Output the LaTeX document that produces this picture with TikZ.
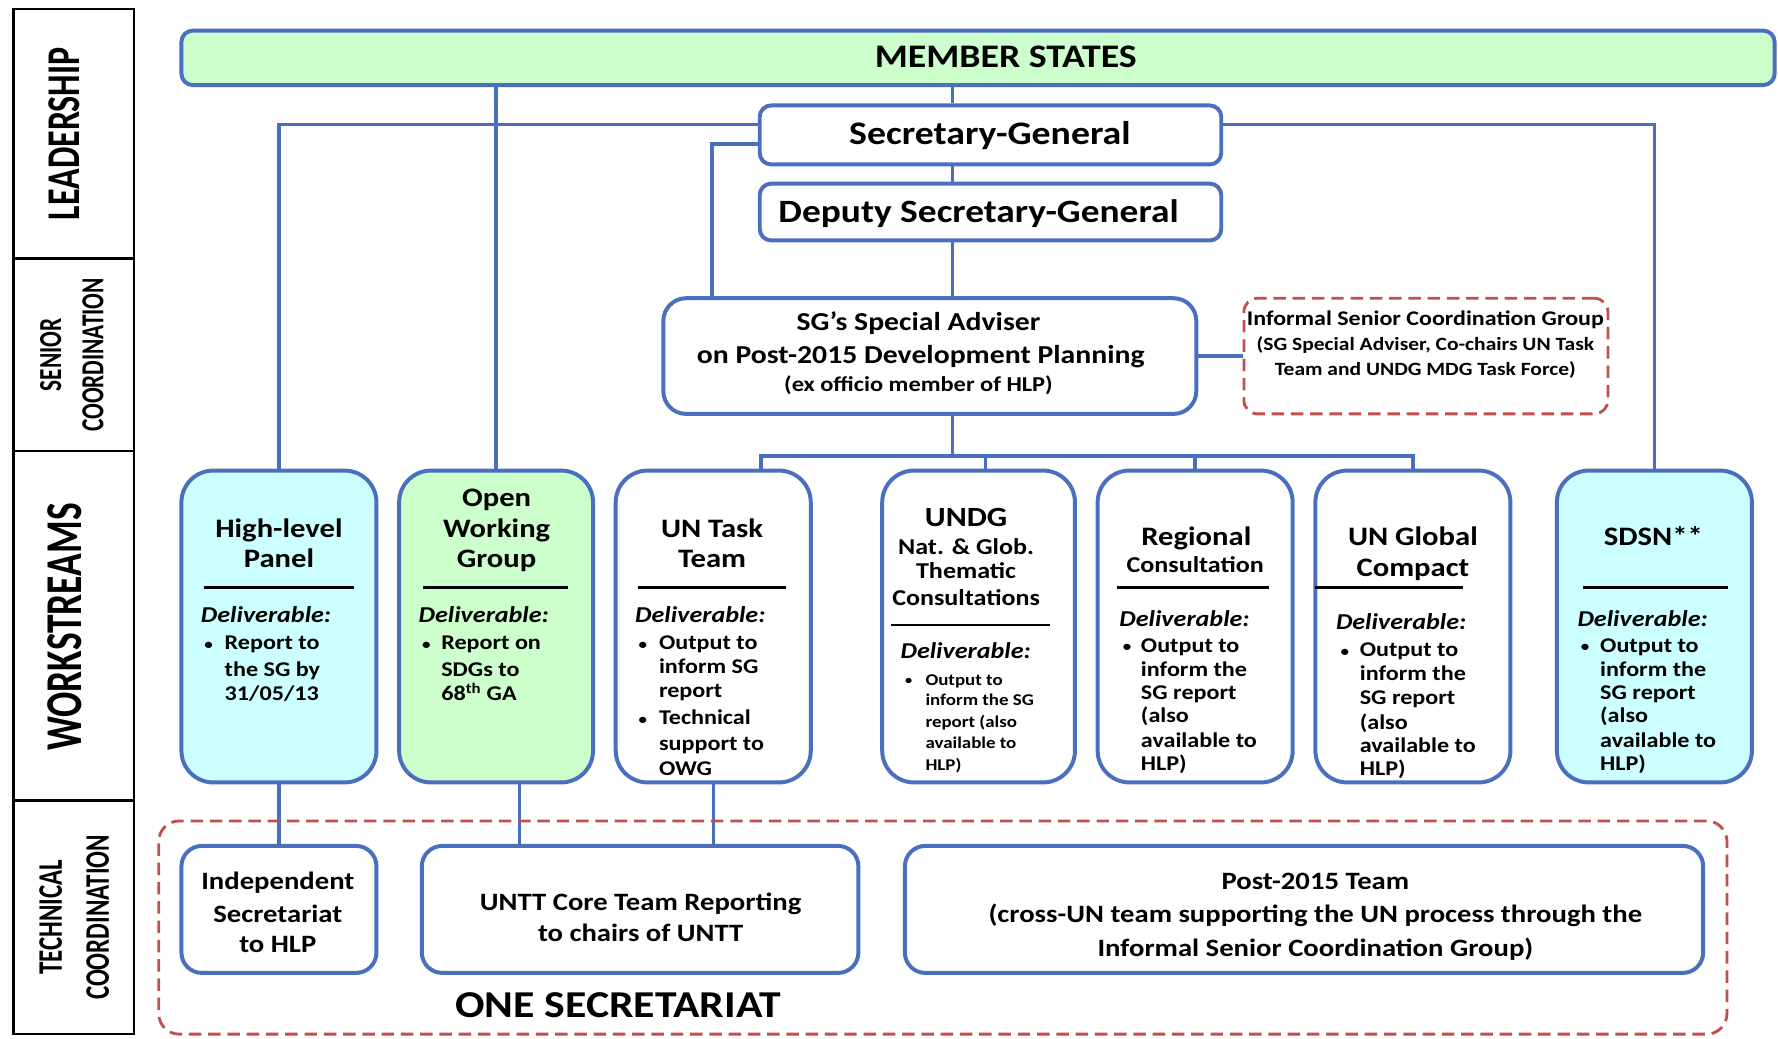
\documentclass[tikz,border=0pt]{standalone}
\usepackage{graphicx}
\usepackage{fontspec}
\setmainfont{Carlito}[FakeStretch=1.15]
\newfontfamily\rotfont{Carlito}
\usetikzlibrary{backgrounds}
\definecolor{bl}{HTML}{4A6FBF}
\definecolor{gr}{HTML}{CCFFCC}
\definecolor{cy}{HTML}{CCFFFF}
\definecolor{rd}{HTML}{C0504D}
\newcommand{\fs}[2]{\fontsize{#1}{#2}\selectfont}
\newcommand{\mklines}[4]{\foreach \yy/\ltxt [count=\ii] in {#4} {\node[#2] (#1-\ii) at (#3,\yy) {\ltxt};}}
\tikzset{
  box/.style={draw=bl, line width=3.5pt, rounded corners=#1, inner sep=0pt},
  box/.default=10pt,
  cell/.style={draw=black, line width=2pt, minimum width=106pt, inner sep=0pt},
  conn/.style={draw=bl, line width=3pt},
  dashbox/.style={draw=rd, line width=2.5pt, dash pattern=on 11pt off 6pt, rounded corners=#1, inner sep=0pt},
  dashbox/.default=14pt,
  rule/.style={draw=black, line width=2pt},
  txt/.style={inner sep=0pt, anchor=mid, font=\fs{#1}{#1}\bfseries, yshift=-0.27*#1},
  ttl/.style={txt=23.5},
  sub/.style={txt=20},
  dlv/.style={inner sep=0pt, anchor=mid west, font=\fs{20}{24}\bfseries\itshape, yshift=-5pt},
  bdy/.style={inner sep=0pt, anchor=mid west, font=\fs{18.5}{22}\bfseries, yshift=-4.8pt},
  bdys/.style={inner sep=0pt, anchor=mid west, font=\fs{14.5}{18}\bfseries, yshift=-3.8pt},
  bul/.style={inner sep=0pt, anchor=mid west, font=\fs{13}{16}\bfseries, yshift=-4.2pt},
  buls/.style={inner sep=0pt, anchor=mid west, font=\fs{11}{14}\bfseries, yshift=-3.5pt},
  bot/.style={txt=22},
  rot/.style={rotate=90, inner sep=0pt, anchor=center},
}
\begin{document}
\begin{tikzpicture}[x=1pt,y=-1pt]
\useasboundingbox (0,0) rectangle (1568,916);
% ---- left label column
\node[cell, minimum height=220pt] (cell1) at (65,118) {};
\node[cell, minimum height=170pt] (cell2) at (65,313) {};
\node[cell, minimum height=308pt] (cell3) at (65,552) {};
\node[cell, minimum height=206pt] (cell4) at (65,809) {};
\node[rot, font=\rotfont\bfseries\fs{30}{36}] (lab1) at (57,118) {\scalebox{1}[1.38]{LEADERSHIP}};
\node[rot, font=\rotfont\bfseries\fs{20.5}{27}] (lab2) at (65,313) {\scalebox{1}[1.38]{\begin{tabular}{@{}c@{}}SENIOR\\COORDINATION\end{tabular}}};
\node[rot, font=\rotfont\bfseries\fs{33}{40}] (lab3) at (57,553) {\scalebox{1}[1.38]{WORKSTREAMS}};
\node[rot, font=\rotfont\bfseries\fs{22}{30}] (lab4) at (67,809) {\scalebox{1}[1.38]{\begin{tabular}{@{}c@{}}TECHNICAL\\COORDINATION\end{tabular}}};
% ---- leadership boxes
\node[box, fill=gr, minimum width=1405pt, minimum height=48pt] (ms) at (862.5,51) {};
\node[box, fill=white, minimum width=407pt, minimum height=52pt] (sg) at (873.5,119) {};
\node[box, fill=white, minimum width=407pt, minimum height=50pt] (dsg) at (873.5,187) {};
\node[box=20pt, fill=white, minimum width=470pt, minimum height=102pt] (sa) at (820,314) {};
\node[dashbox=12pt, minimum width=321pt, minimum height=102pt] (iscg) at (1257.5,314) {};
\node[txt=29] (ms-t) at (887,49) {MEMBER STATES};
\node[txt=29] (sg-t) at (873,117) {Secretary-General};
\node[txt=28.7] (dsg-t) at (863,186) {Deputy Secretary-General};
\node[txt=22.8] (sa-1) at (810,283) {SG’s Special Adviser};
\node[txt=22.8] (sa-2) at (812,312) {on Post-2015 Development Planning};
\node[txt=18.7] (sa-3) at (810,338) {(ex officio member of HLP)};
\node[txt=18.4] (iscg-1) at (1257,280) {Informal Senior Coordination Group};
\node[txt=16.5] (iscg-2) at (1257,302) {(SG Special Adviser, Co-chairs UN Task};
\node[txt=16.5] (iscg-3) at (1257,324) {Team and UNDG MDG Task Force)};
% ---- workstreams
\node[box=28pt, fill=cy, minimum width=172pt, minimum height=275pt] (hlp) at (246,552.5) {};
\node[box=28pt, fill=gr, minimum width=171pt, minimum height=275pt] (owg) at (437.5,552.5) {};
\node[box=28pt, fill=white, minimum width=172pt, minimum height=275pt] (untt) at (629,552.5) {};
\node[box=28pt, fill=white, minimum width=170pt, minimum height=275pt] (undg) at (863,552.5) {};
\node[box=28pt, fill=white, minimum width=172pt, minimum height=275pt] (reg) at (1054,552.5) {};
\node[box=28pt, fill=white, minimum width=172pt, minimum height=275pt] (gc) at (1246,552.5) {};
\node[box=28pt, fill=cy, minimum width=172pt, minimum height=275pt] (sdsn) at (1459,552.5) {};
% HLP
\mklines{hlp-t}{ttl}{246}{465/{High-level},492/{Panel}}
\draw[rule] (180,518) -- (312,518);
\node[dlv] (hlp-d) at (177,542) {Deliverable:};
\node[bul] (hlp-u) at (180,566) {\textbullet};
\mklines{hlp-b}{bdy}{198}{566/{Report to},589/{the SG by},611/{31/05/13}}
% OWG
\mklines{owg-t}{ttl}{438}{438/{Open},465/{Working},492/{Group}}
\draw[rule] (373,518) -- (501,518);
\node[dlv] (owg-d) at (369,542) {Deliverable:};
\node[bul] (owg-u) at (372,566) {\textbullet};
\mklines{owg-b}{bdy}{389}{566/{Report on},589/{SDGs to},611/{68\textsuperscript{th} GA}}
% UNTT
\mklines{untt-t}{ttl}{628}{465/{UN Task},492/{Team}}
\draw[rule] (563,518) -- (693,518);
\node[dlv] (untt-d) at (560,542) {Deliverable:};
\node[bul] (untt-u1) at (563,566) {\textbullet};
\node[bul] (untt-u2) at (563,632) {\textbullet};
\mklines{untt-b}{bdy}{581}{566/{Output to},587/{inform SG},608/{report},632/{Technical},655/{support to},677/{OWG}}
% UNDG
\node[txt=24.5] (undg-t) at (852,455) {UNDG};
\mklines{undg-s}{sub}{852}{481/{Nat. \& Glob.},502/{Thematic},526/{Consultations}}
\draw[rule] (786,551) -- (926,551);
\node[dlv] (undg-d) at (794,573) {Deliverable:};
\node[buls] (undg-u) at (798,598) {\textbullet};
\mklines{undg-b}{bdys}{816}{598/{Output to},616/{inform the SG},635/{report (also},654/{available to},673/{HLP)}}
% Regional
\node[ttl] (reg-t) at (1055,472) {Regional};
\node[sub] (reg-s) at (1054,497) {Consultation};
\draw[rule] (985,518) -- (1119,518);
\node[dlv] (reg-d) at (987,545) {Deliverable:};
\node[bul] (reg-u) at (990,568) {\textbullet};
\mklines{reg-b}{bdy}{1006}{568/{Output to},589/{inform the},610/{SG report},630/{(also},652/{available to},672/{HLP)}}
% Global Compact
\mklines{gc-t}{ttl}{1246}{472/{UN Global},500/{Compact}}
\draw[rule] (1160,518) -- (1290,518);
\node[dlv] (gc-d) at (1178,548) {Deliverable:};
\node[bul] (gc-u) at (1182,572) {\textbullet};
\mklines{gc-b}{bdy}{1199}{572/{Output to},593/{inform the},614/{SG report},636/{(also},656/{available to},677/{HLP)}}
% SDSN
\node[ttl] (sdsn-t) at (1458,472) {SDSN**};
\draw[rule] (1396,518) -- (1524,518);
\node[dlv] (sdsn-d) at (1391,545) {Deliverable:};
\node[bul] (sdsn-u) at (1394,568) {\textbullet};
\mklines{sdsn-b}{bdy}{1411}{568/{Output to},589/{inform the},610/{SG report},630/{(also},652/{available to},672/{HLP)}}
% ---- technical coordination
\node[dashbox=18pt, minimum width=1383pt, minimum height=188pt] (one) at (831.5,818) {};
\node[box=18pt, fill=white, minimum width=172pt, minimum height=112pt] (indep) at (246,802) {};
\node[box=18pt, fill=white, minimum width=385pt, minimum height=112pt] (core) at (564.5,802) {};
\node[box=18pt, fill=white, minimum width=704pt, minimum height=112pt] (post) at (1150,802) {};
\mklines{indep-t}{bot}{245}{776/{Independent},805/{Secretariat},832/{to HLP}}
\mklines{core-t}{bot}{565}{795/{UNTT Core Team Reporting},822/{to chairs of UNTT}}
\mklines{post-t}{bot}{1160}{776/{Post-2015 Team},805/{(cross-UN team supporting the UN process through the},835/{Informal Senior Coordination Group)}}
\node[txt=33.5] (one-t) at (545,886) {ONE SECRETARIAT};
% ---- connectors
\coordinate (cx) at (840,0);
\coordinate (hy) at (0,110);
\coordinate (ay) at (0,127);
\coordinate (ax) at (628,0);
\coordinate (bus) at (840,402);
\coordinate (d1) at (671,0);
\coordinate (d2) at (869,0);
\coordinate (iy) at (0,314);
\coordinate (ox) at (458,0);
\begin{scope}[on background layer]
\draw[conn] (ms.south -| cx) -- (sg.north -| cx);
\draw[conn] (sg.south -| cx) -- (dsg.north -| cx);
\draw[conn] (dsg.south -| cx) -- (sa.north -| cx);
\draw[conn] (ms.south -| owg.north) -- (owg.north);
\draw[conn] (sg.west |- hy) -| (hlp.north);
\draw[conn] (sg.east |- hy) -| (sdsn.north);
\draw[conn] (sg.west |- ay) -| (sa.north -| ax);
\draw[conn] (sa.south -| cx) -- (bus);
\draw[conn] (untt.north -| d1) |- (bus) -| (gc.north);
\draw[conn] (undg.north -| d2) -- (bus -| d2);
\draw[conn] (reg.north) -- (reg.north |- bus);
\draw[conn] (sa.east |- iy) -- (iscg.west |- iy);
\draw[conn] (hlp.south) -- (indep.north);
\draw[conn] (owg.south -| ox) -- (core.north -| ox);
\draw[conn] (untt.south) -- (untt.south |- core.north);
\end{scope}
\end{tikzpicture}
\end{document}
